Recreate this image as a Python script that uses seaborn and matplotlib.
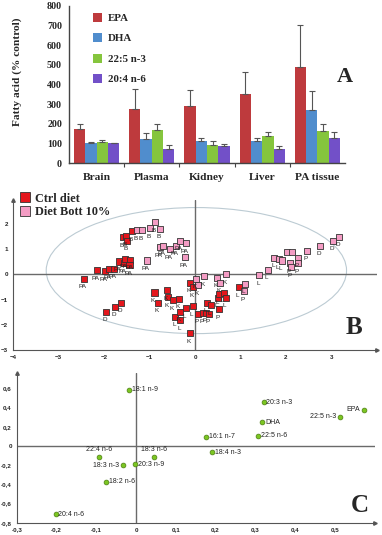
import numpy as np
import pandas as pd
import matplotlib
matplotlib.use("Agg")
import matplotlib.pyplot as plt
from matplotlib.patches import Ellipse
from matplotlib.lines import Line2D
import seaborn as sns

# ---- panel A data: fatty acid (% control) per tissue
tissues = ["Brain", "Plasma", "Kidney", "Liver", "PA tissue"]
acids = ["EPA", "DHA", "22:5 n-3", "20:4 n-6"]
epa = [172, 275, 292, 350, 487]
epa_err = [28, 103, 81, 112, 218]
dha = [102, 123, 112, 112, 272]
dha_err = [3, 32, 16, 13, 96]
dpa = [105, 170, 92, 138, 165]
dpa_err = [10, 30, 18, 19, 35]
ara = [100, 70, 88, 70, 125]
ara_err = [2, 20, 7, 17, 33]

# ---- panel B data: PCA scores
ctrl_x = [-2.44, -2.16, -1.97, -1.89, -1.78, -1.67, -1.56, -1.53, -1.42, -1.44,
          -1.58, -1.51, -1.49, -1.38, -1.95, -1.75, -1.62,
          -0.89, -0.82, -0.61, -0.60, -0.49, -0.36, -0.43, -0.32, -0.34, -0.20,
          -0.05, -0.12, -0.12, -0.04, 0.07, 0.18, 0.25, 0.30, 0.26, 0.35,
          0.52, 0.50, 0.53, 0.64, 0.68, 0.96]
ctrl_y = [-0.18, 0.16, 0.13, 0.21, 0.22, 0.51, 0.45, 0.62, 0.58, 0.37,
          1.47, 1.52, 1.34, 1.71, -1.48, -1.29, -1.13,
          -0.72, -1.13, -0.62, -0.91, -1.02, -0.97, -1.68, -1.81, -1.48, -1.35,
          -1.26, -2.34, -0.34, -0.50, -1.57, -1.55, -1.52, -1.57, -1.13, -1.22,
          -1.39, -0.92, -0.79, -0.73, -0.92, -0.50]
ctrl_lab = ["PA", "PA", "PA", "PA", "PA", "PA", "PA", "PA", "PA", "PA",
            "B", "B", "B", "B", "D", "D", "D",
            "K", "K", "K", "K", "K", "K", "L", "L", "K", "L",
            "L", "K", "K", "K", "P", "P", "P", "P", "L", "L",
            "P", "L", "L", "L", "L", "L"]
bott_x = [-1.27, -1.16, -0.99, -0.87, -0.77, -1.05, -0.77, -0.70, -0.56, -0.42,
          -0.34, -0.20, -0.23, 0.03, 0.20, 0.07, 0.48, 0.69, 0.54,
          1.10, 1.07, 1.41, 1.60, 1.74, 1.84, 1.91, 2.03, 2.13, 2.09, 2.10,
          2.27, 2.27, 2.46, 2.75, 3.04, 3.17]
bott_y = [1.76, 1.76, 1.84, 2.06, 1.81, 0.55, 1.08, 1.13, 1.00, 1.14,
          1.34, 1.23, 0.68, -0.17, -0.08, -0.43, -0.14, 0.00, -0.34,
          -0.37, -0.67, -0.03, 0.18, 0.66, 0.60, 0.55, 0.89, 0.89, 0.45, 0.29,
          0.66, 0.45, 0.94, 1.13, 1.34, 1.50]
bott_lab = ["B", "B", "B", "B", "B", "PA", "PA", "PA", "PA", "PA",
            "PA", "PA", "PA", "K", "K", "K", "K", "K", "K",
            "L", "P", "L", "L", "L", "L", "L", "", "", "P", "P",
            "P", "P", "P", "D", "D", "D"]

# ---- panel C data: PCA loadings
fa_names = ["18:1 n-9", "20:3 n-3", "EPA", "22:5 n-3", "DHA", "22:5 n-6", "16:1 n-7",
            "18:4 n-3", "18:3 n-6", "22:4 n-6", "18:3 n-3", "20:3 n-9", "18:2 n-6", "20:4 n-6"]
fa_x = [-0.017, 0.321, 0.573, 0.513, 0.318, 0.307, 0.176, 0.192, 0.045, -0.094, -0.032, -0.002, -0.076, -0.202]
fa_y = [0.585, 0.455, 0.369, 0.303, 0.245, 0.107, 0.093, -0.066, -0.114, -0.121, -0.200, -0.193, -0.372, -0.710]

sns.set_theme(style="white")
plt.rcParams["font.family"] = ["Liberation Sans", "DejaVu Sans"]
serif_b = dict(family="Liberation Serif", weight="bold")

fig = plt.figure(figsize=(3.82, 5.35), dpi=100)

# ================= Panel A
axA = fig.add_axes([0.1806, 0.6953, 0.7225, 0.2935])
rows = []
for acid, vals in zip(acids, [epa, dha, dpa, ara]):
    for t, v in zip(tissues, vals):
        rows.append((t, acid, v))
dfA = pd.DataFrame(rows, columns=["tissue", "acid", "value"])
bar_colors = ["#d42428", "#3b8de2", "#86dc26", "#6a3cdc"]
sns.barplot(data=dfA, x="tissue", y="value", hue="acid", palette=bar_colors,
            width=0.82, errorbar=None, edgecolor="none", ax=axA)
for cont, errs in zip(axA.containers, [epa_err, dha_err, dpa_err, ara_err]):
    for bar, e in zip(cont, errs):
        cx = bar.get_x() + bar.get_width() / 2
        axA.errorbar(cx, bar.get_height(), yerr=[[0], [e]], color="#555555",
                     capsize=2, lw=0.8, capthick=0.8)
axA.set_xlim(-0.5, 4.5)
axA.set_ylim(0, 800)
axA.set_yticks(range(0, 801, 100))
axA.set_xlabel("")
axA.set_ylabel("Fatty acid (% control)", fontsize=8.2, **serif_b)
axA.yaxis.set_label_coords(-0.17, 0.58)
sns.despine(ax=axA)
for s in ["left", "bottom"]:
    axA.spines[s].set_color("#444444")
    axA.spines[s].set_linewidth(1.0)
axA.tick_params(axis="y", direction="out", length=3, width=0.8, color="#444444", pad=2)
axA.tick_params(axis="x", length=0, pad=7)
axA.set_xticks([0.5, 1.5, 2.5, 3.5], minor=True)
axA.tick_params(axis="x", which="minor", direction="out", length=3, width=0.8, color="#444444", bottom=True)
for lab in axA.get_yticklabels():
    lab.set_fontproperties(dict(size=7.2, **serif_b))
for lab in axA.get_xticklabels():
    lab.set_fontproperties(dict(size=8.2, **serif_b))
axA.legend(loc="upper left", bbox_to_anchor=(0.05, 1.02), frameon=False,
           prop=dict(size=7.8, **serif_b), handlelength=0.9, handleheight=0.9,
           labelspacing=0.95, handletextpad=0.5)
axA.text(1.0, 0.55, "A", transform=axA.transAxes, ha="center", va="center",
         fontsize=16, **serif_b)

# ================= Panel B
axB = fig.add_axes([0.034, 0.3458, 0.953, 0.2804])
dfB = pd.DataFrame({
    "x": ctrl_x + bott_x,
    "y": ctrl_y + bott_y,
    "group": ["Ctrl diet"] * len(ctrl_x) + ["Diet Bott 10%"] * len(bott_x),
})
axB.add_patch(Ellipse((0.03, 0.15), 6.6, 5.0, fill=False, ec="#bccbd3", lw=0.8))
axB.axhline(0, color="#6a6a6a", lw=1.0, zorder=1)
axB.axvline(0, color="#6a6a6a", lw=1.0, zorder=1)
grp_colors = {"Ctrl diet": "#e4161c", "Diet Bott 10%": "#f49cc4"}
sns.scatterplot(data=dfB, x="x", y="y", hue="group", palette=grp_colors, marker="s",
                s=19, edgecolor="#333333", linewidth=0.6, legend=False, zorder=3, ax=axB)
for xs, ys, labs in [(ctrl_x, ctrl_y, ctrl_lab), (bott_x, bott_y, bott_lab)]:
    for x, y, lab in zip(xs, ys, labs):
        axB.annotate(lab, (x, y), xytext=(-1, -4), textcoords="offset points",
                     ha="center", va="top", fontsize=4.6, color="#222222", zorder=4)
axB.set_xlim(-4, 4)
axB.set_ylim(-3, 2.95)
axB.set_xticks(range(-4, 4))
axB.set_yticks(range(-3, 3))
axB.set_xlabel("")
axB.set_ylabel("")
sns.despine(ax=axB)
for s in ["left", "bottom"]:
    axB.spines[s].set_color("#555555")
    axB.spines[s].set_linewidth(0.8)
axB.tick_params(direction="out", length=2, width=0.6, color="#555555", labelsize=4.5, pad=1.5)
for lab in axB.get_xticklabels() + axB.get_yticklabels():
    lab.set_fontweight("bold")
axB.plot(1, 0, ">", color="#555555", ms=2.5, transform=axB.transAxes, clip_on=False)
axB.plot(0, 1, "^", color="#555555", ms=2.5, transform=axB.transAxes, clip_on=False)
handles = [Line2D([], [], marker="s", ls="", mfc=grp_colors[g], mec="#333333", mew=0.6, ms=6.5)
           for g in ["Ctrl diet", "Diet Bott 10%"]]
fig.legend(handles, ["Ctrl diet", "Diet Bott 10%"], loc="upper left",
           bbox_to_anchor=(12 / 382, 1 - 184 / 535), frameon=False,
           prop=dict(size=8.8, **serif_b), handlelength=0.8, handletextpad=0.4,
           labelspacing=0.15, borderpad=0.2)
axB.text(354, 535 - 328, "B", transform=None, fontsize=18, ha="center", va="center", **serif_b)

# ================= Panel C
axC = fig.add_axes([0.0437, 0.023, 0.937, 0.280])
axC.axhline(0, color="#6a6a6a", lw=1.0, zorder=1)
axC.axvline(0, color="#6a6a6a", lw=1.0, zorder=1)
dfC = pd.DataFrame({"x": fa_x, "y": fa_y, "name": fa_names})
sns.scatterplot(data=dfC, x="x", y="y", color="#7cc622", edgecolor="#4b7d12",
                s=12, linewidth=0.5, zorder=3, ax=axC)
left_side = {"EPA", "22:5 n-3", "18:3 n-3"}
above = {"18:3 n-6", "22:4 n-6"}
for x, y, name in zip(fa_x, fa_y, fa_names):
    if name in above:
        off, ha, va = (0, 3), "center", "bottom"
    elif name in left_side:
        off, ha, va = (-3, 1 if name == "EPA" else 0), "right", "center"
    else:
        off, ha, va = (2, 0), "left", "center"
    axC.annotate(name, (x, y), xytext=off, textcoords="offset points",
                 ha=ha, va=va, fontsize=5, color="#222222", zorder=4)
axC.set_xlim(-0.3, 0.6)
axC.set_ylim(-0.8, 0.76)
xt = [-0.3, -0.2, -0.1, 0, 0.1, 0.2, 0.3, 0.4, 0.5]
yt = [-0.8, -0.6, -0.4, -0.2, 0, 0.2, 0.4, 0.6]
axC.set_xticks(xt)
axC.set_yticks(yt)
axC.set_xticklabels([("%g" % v).replace(".", ",") for v in xt])
axC.set_yticklabels([("%g" % v).replace(".", ",") for v in yt])
axC.set_xlabel("")
axC.set_ylabel("")
sns.despine(ax=axC)
for s in ["left", "bottom"]:
    axC.spines[s].set_color("#555555")
    axC.spines[s].set_linewidth(0.8)
axC.tick_params(direction="out", length=2, width=0.6, color="#555555", labelsize=4.5, pad=1.5)
for lab in axC.get_xticklabels() + axC.get_yticklabels():
    lab.set_fontweight("bold")
axC.plot(1, 0, ">", color="#555555", ms=2.5, transform=axC.transAxes, clip_on=False)
axC.plot(0, 1, "^", color="#555555", ms=2.5, transform=axC.transAxes, clip_on=False)
axC.text(360, 535 - 505, "C", transform=None, fontsize=18, ha="center", va="center", **serif_b)

fig.savefig("out.png", dpi=100)
